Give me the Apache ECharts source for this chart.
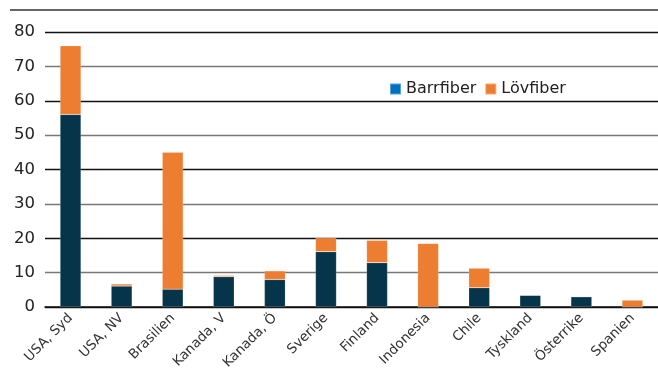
<!DOCTYPE html>
<html>
<head>
<meta charset="utf-8">
<script src="https://cdn.jsdelivr.net/npm/echarts@6/dist/echarts.min.js"></script>
<style>
  html, body { margin: 0; padding: 0; background: #fff; }
  #chart { width: 658px; height: 369px; }
</style>
</head>
<body>
<div id="chart"></div>
<script>
// Pulp capacity by region, split by fibre type
const categories = ['USA, Syd', 'USA, NV', 'Brasilien', 'Kanada, V', 'Kanada, Ö', 'Sverige', 'Finland', 'Indonesia', 'Chile', 'Tyskland', 'Österrike', 'Spanien'];
const barrfiber = [56, 6.1, 5.2, 8.8, 8.0, 16.1, 12.9, 0, 5.6, 3.4, 3.0, 0];
const lovfiber  = [20, 0.6, 39.8, 0.4, 2.5, 4.0, 6.5, 18.5, 5.7, 0, 0, 2.0];
const yTicks = [0, 10, 20, 30, 40, 50, 60, 70, 80];

const chart = echarts.init(document.getElementById('chart'));
const font = 'DejaVu Sans';

chart.setOption({
  animation: false,
  textStyle: { fontFamily: font },
  grid: { left: 45, right: 0, top: 32, bottom: 62, outerBoundsMode: 'none', containLabel: false },
  legend: {
    left: 384, top: 76,
    icon: 'rect',
    itemWidth: 11, itemHeight: 11, itemGap: 8,
    textStyle: { fontSize: 16, color: '#222', fontFamily: font },
    data: [
      { name: 'Barrfiber', itemStyle: { color: '#0070C0' } },
      { name: 'Lövfiber', itemStyle: { color: '#ED7D31' } }
    ]
  },
  xAxis: {
    type: 'category',
    data: categories,
    axisLine: { lineStyle: { color: '#111', width: 1.5 } },
    axisTick: { show: false },
    axisLabel: { rotate: 45, fontSize: 13.5, color: '#333', margin: 9, interval: 0 }
  },
  yAxis: {
    type: 'value',
    min: yTicks[0], max: yTicks[yTicks.length - 1], interval: 10,
    axisLine: { show: false },
    axisTick: { show: false },
    axisLabel: { fontSize: 16.5, color: '#222', margin: 10 },
    splitLine: { lineStyle: { color: ['#111', '#777'], width: 1.3 } }
  },
  graphic: [{
    type: 'line',
    shape: { x1: 10, y1: 10, x2: 658, y2: 10 },
    style: { stroke: '#333', lineWidth: 1.3 }
  }],
  series: [
    {
      name: 'Barrfiber', type: 'bar', stack: 'total', barWidth: '41%',
      data: barrfiber,
      itemStyle: { color: '#06344A', borderColor: 'rgba(255,255,255,0.35)', borderWidth: 0.5 }
    },
    {
      name: 'Lövfiber', type: 'bar', stack: 'total', barWidth: '41%',
      data: lovfiber,
      itemStyle: { color: '#ED7D31', borderColor: 'rgba(255,255,255,0.35)', borderWidth: 0.5 }
    }
  ]
});
</script>
</body>
</html>
